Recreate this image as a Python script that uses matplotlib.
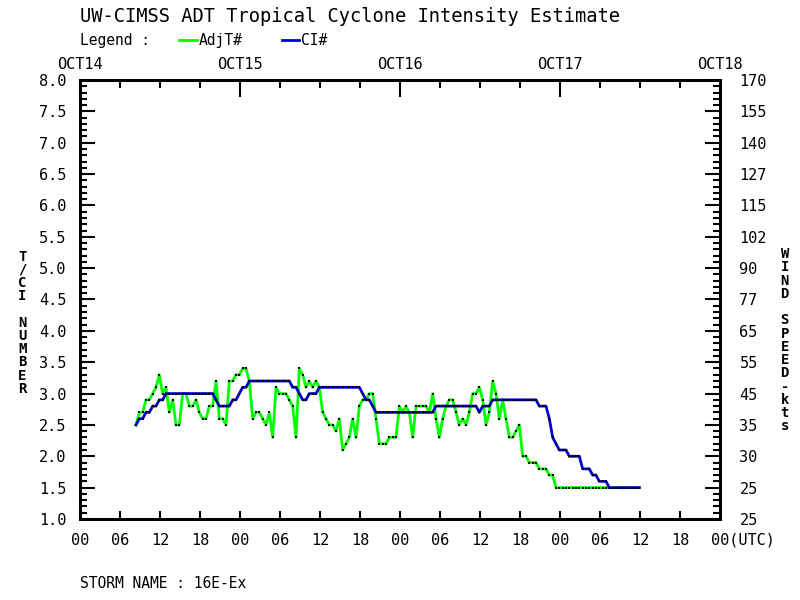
"""ADT intensity estimate plot (T# / CI# vs time)."""
import matplotlib

matplotlib.use("Agg")
import matplotlib.pyplot as plt
from matplotlib.ticker import MultipleLocator

FONT = "DejaVu Sans Mono"
GREEN = "#00ff00"
BLUE = "#0000dd"

# hours after OCT14 00 UTC
HOURS = [
    8.4, 8.9, 9.4, 9.9, 10.4, 10.9, 11.4, 11.9, 12.4, 12.9,
    13.4, 13.9, 14.4, 14.9, 15.4, 15.9, 16.4, 16.9, 17.4, 17.9,
    18.4, 18.9, 19.4, 19.9, 20.4, 20.9, 21.4, 21.9, 22.4, 22.9,
    23.4, 23.9, 24.4, 24.9, 25.4, 25.9, 26.4, 26.9, 27.4, 27.9,
    28.4, 28.9, 29.4, 29.9, 30.4, 30.9, 31.4, 31.9, 32.4, 32.9,
    33.4, 33.9, 34.4, 34.9, 35.4, 35.9, 36.4, 36.9, 37.4, 37.9,
    38.4, 38.9, 39.4, 39.9, 40.4, 40.9, 41.4, 41.9, 42.4, 42.9,
    43.4, 43.9, 44.4, 44.9, 45.4, 45.9, 46.4, 46.9, 47.4, 47.9,
    48.4, 48.9, 49.4, 49.9, 50.4, 50.9, 51.4, 51.9, 52.4, 52.9,
    53.4, 53.9, 54.4, 54.9, 55.4, 55.9, 56.4, 56.9, 57.4, 57.9,
    58.4, 58.9, 59.4, 59.9, 60.4, 60.9, 61.4, 61.9, 62.4, 62.9,
    63.4, 63.9, 64.4, 64.9, 65.4, 65.9, 66.4, 66.9, 67.4, 67.9,
    68.4, 68.9, 69.4, 69.9, 70.4, 70.9, 71.4, 71.9, 72.4, 72.9,
    73.4, 73.9, 74.4, 74.9, 75.4, 75.9, 76.4, 76.9, 77.4, 77.9,
    78.4, 78.9, 79.4, 79.9, 80.4, 80.9, 81.4, 81.9, 82.4, 82.9,
    83.4, 83.9,
]

ADJ_T = [
    2.5, 2.7, 2.7, 2.9, 2.9, 3.0, 3.1, 3.3, 3.0, 3.1,
    2.7, 2.9, 2.5, 2.5, 3.0, 3.0, 2.8, 2.8, 2.9, 2.7,
    2.6, 2.6, 2.8, 2.8, 3.2, 2.6, 2.6, 2.5, 3.2, 3.2,
    3.3, 3.3, 3.4, 3.4, 3.2, 2.6, 2.7, 2.7, 2.6, 2.5,
    2.7, 2.3, 3.1, 3.0, 3.0, 3.0, 2.9, 2.8, 2.3, 3.4,
    3.3, 3.1, 3.2, 3.1, 3.2, 3.1, 2.7, 2.6, 2.5, 2.5,
    2.4, 2.6, 2.1, 2.2, 2.3, 2.6, 2.3, 2.8, 2.9, 2.9,
    3.0, 3.0, 2.6, 2.2, 2.2, 2.2, 2.3, 2.3, 2.3, 2.8,
    2.7, 2.8, 2.7, 2.3, 2.8, 2.8, 2.8, 2.8, 2.7, 3.0,
    2.6, 2.3, 2.6, 2.8, 2.9, 2.9, 2.7, 2.5, 2.6, 2.5,
    2.7, 3.0, 3.0, 3.1, 2.9, 2.5, 2.7, 3.2, 3.0, 2.6,
    2.9, 2.6, 2.3, 2.3, 2.4, 2.5, 2.0, 2.0, 1.9, 1.9,
    1.9, 1.8, 1.8, 1.8, 1.7, 1.7, 1.5, 1.5, 1.5, 1.5,
    1.5, 1.5, 1.5, 1.5, 1.5, 1.5, 1.5, 1.5, 1.5, 1.5,
    1.5, 1.5, 1.5, 1.5, 1.5, 1.5, 1.5, 1.5, 1.5, 1.5,
    1.5, 1.5,
]

CI = [
    2.5, 2.6, 2.6, 2.7, 2.7, 2.8, 2.8, 2.9, 2.9, 3.0,
    3.0, 3.0, 3.0, 3.0, 3.0, 3.0, 3.0, 3.0, 3.0, 3.0,
    3.0, 3.0, 3.0, 3.0, 2.9, 2.8, 2.8, 2.8, 2.8, 2.9,
    2.9, 3.0, 3.1, 3.1, 3.2, 3.2, 3.2, 3.2, 3.2, 3.2,
    3.2, 3.2, 3.2, 3.2, 3.2, 3.2, 3.2, 3.1, 3.1, 3.0,
    2.9, 2.9, 3.0, 3.0, 3.0, 3.1, 3.1, 3.1, 3.1, 3.1,
    3.1, 3.1, 3.1, 3.1, 3.1, 3.1, 3.1, 3.1, 3.0, 2.9,
    2.9, 2.8, 2.7, 2.7, 2.7, 2.7, 2.7, 2.7, 2.7, 2.7,
    2.7, 2.7, 2.7, 2.7, 2.7, 2.7, 2.7, 2.7, 2.7, 2.7,
    2.8, 2.8, 2.8, 2.8, 2.8, 2.8, 2.8, 2.8, 2.8, 2.8,
    2.8, 2.8, 2.8, 2.7, 2.8, 2.8, 2.8, 2.9, 2.9, 2.9,
    2.9, 2.9, 2.9, 2.9, 2.9, 2.9, 2.9, 2.9, 2.9, 2.9,
    2.9, 2.8, 2.8, 2.8, 2.6, 2.3, 2.2, 2.1, 2.1, 2.1,
    2.0, 2.0, 2.0, 2.0, 1.8, 1.8, 1.8, 1.7, 1.7, 1.6,
    1.6, 1.6, 1.5, 1.5, 1.5, 1.5, 1.5, 1.5, 1.5, 1.5,
    1.5, 1.5,
]

T_TICKS = [1.0, 1.5, 2.0, 2.5, 3.0, 3.5, 4.0, 4.5, 5.0, 5.5, 6.0, 6.5, 7.0, 7.5, 8.0]
WIND_LABELS = ["25", "25", "30", "35", "45", "55", "65", "77", "90",
               "102", "115", "127", "140", "155", "170"]
DAY_HOURS = [0, 24, 48, 72, 96]
DAY_LABELS = ["OCT14", "OCT15", "OCT16", "OCT17", "OCT18"]
HOUR_TICKS = [0, 6, 12, 18, 24, 30, 36, 42, 48, 54, 60, 66, 72, 78, 84, 90, 96]
HOUR_LABELS = ["00", "06", "12", "18"] * 4 + [""]


def main():
    fig = plt.figure(figsize=(8, 6), dpi=100)
    ax = fig.add_axes([0.1, 0.135, 0.8, 0.7317])

    ax.plot(HOURS, ADJ_T, color=GREEN, lw=2, zorder=3)
    ax.plot(HOURS, CI, color=BLUE, lw=2, zorder=4)
    ax.plot(HOURS, ADJ_T, ls="none", marker="s", ms=1.6, mew=0, color="black", zorder=5)
    ax.plot(HOURS, CI, ls="none", marker="s", ms=1.6, mew=0, color="black", zorder=5)

    ax.set_xlim(0, 96)
    ax.set_ylim(1.0, 8.0)
    for s in ax.spines.values():
        s.set_linewidth(2)

    # left axis: T/CI number
    ax.set_yticks(T_TICKS)
    ax.set_yticklabels([f"{v:.1f}" for v in T_TICKS], fontsize=11, family=FONT)
    ax.yaxis.set_minor_locator(MultipleLocator(0.1))
    ax.tick_params(axis="y", which="major", direction="in", length=11, width=1.5,
                   right=True, pad=10)
    ax.tick_params(axis="y", which="minor", direction="in", length=5, width=1.5,
                   right=True)

    # bottom axis: hours (last one carries the UTC tag)
    ax.set_xticks(HOUR_TICKS)
    ax.set_xticklabels(HOUR_LABELS, fontsize=11, family=FONT)
    ax.tick_params(axis="x", which="major", direction="in", length=6, width=1.5, pad=10)
    ax.annotate("00(UTC)", xy=(96, 0), xycoords=ax.get_xaxis_transform(),
                xytext=(-9, -21), textcoords="offset pixels",
                ha="left", va="center", fontsize=11, family=FONT)

    # right axis: wind speed
    ax2 = ax.twinx()
    ax2.set_ylim(1.0, 8.0)
    ax2.set_yticks(T_TICKS)
    ax2.set_yticklabels(WIND_LABELS, fontsize=11, family=FONT)
    ax2.tick_params(axis="y", direction="in", length=11, width=1.5, pad=14)
    ax2.yaxis.set_minor_locator(MultipleLocator(0.1))
    ax2.tick_params(axis="y", which="minor", direction="in", length=5, width=1.5)

    # top axis: dates
    ax3 = ax.twiny()
    ax3.set_xlim(0, 96)
    ax3.set_xticks(DAY_HOURS)
    ax3.set_xticklabels(DAY_LABELS, fontsize=11, family=FONT)
    ax3.xaxis.set_minor_locator(MultipleLocator(6))
    ax3.tick_params(axis="x", which="major", direction="in", length=12, width=1.5, pad=6)
    ax3.tick_params(axis="x", which="minor", direction="in", length=6, width=1.5)
    for a in (ax2, ax3):
        for s in a.spines.values():
            s.set_linewidth(2)

    # titles and legend
    fig.text(0.1, 0.973, "UW-CIMSS ADT Tropical Cyclone Intensity Estimate",
             fontsize=13.5, family=FONT, va="center", ha="left")
    fig.text(0.1, 0.933, "Legend :", fontsize=10.5, family=FONT, va="center")
    fig.lines.append(plt.Line2D([0.224, 0.246], [0.933, 0.933], color=GREEN, lw=2,
                                transform=fig.transFigure))
    fig.text(0.248, 0.933, "AdjT#", fontsize=10.5, family=FONT, va="center")
    fig.lines.append(plt.Line2D([0.352, 0.374], [0.933, 0.933], color=BLUE, lw=2,
                                transform=fig.transFigure))
    fig.text(0.376, 0.933, "CI#", fontsize=10.5, family=FONT, va="center")

    fig.text(0.028, 0.462, "\n".join("T/CI NUMBER"), fontsize=10, family=FONT,
             ha="center", va="center", linespacing=0.93, fontweight="bold")
    fig.text(0.981, 0.433, "\n".join("WIND SPEED-kts"), fontsize=10, family=FONT,
             ha="center", va="center", linespacing=0.93, fontweight="bold")

    fig.text(0.1, 0.028, "STORM NAME : 16E-Ex", fontsize=10.5, family=FONT,
             va="center")

    fig.savefig("out.png", dpi=100)
    plt.close(fig)


if __name__ == "__main__":
    main()
